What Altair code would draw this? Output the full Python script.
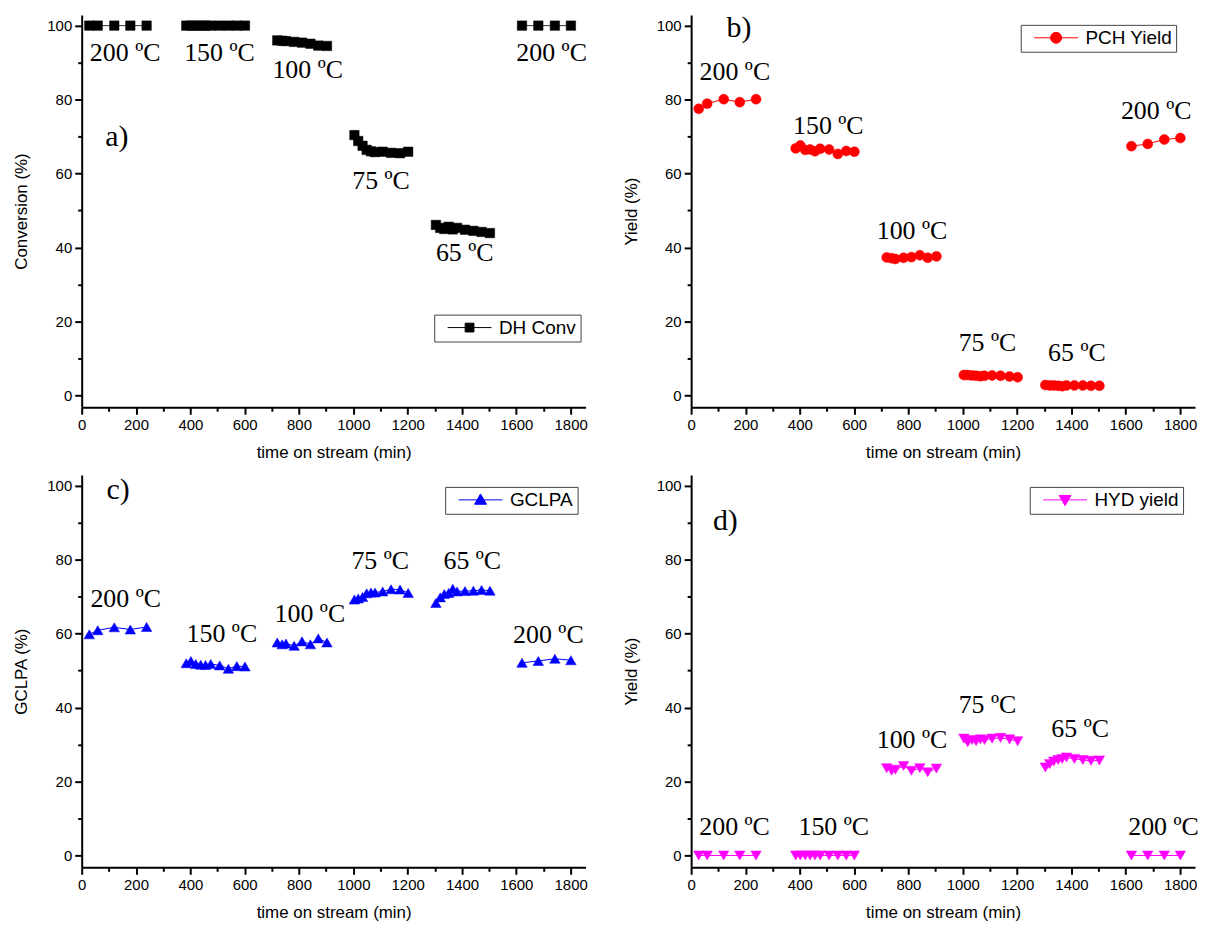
import altair as alt
import pandas as pd

# ---------------- data ----------------
step_names = ["200a", "150", "100", "75", "65", "200b"]
t_s1 = [28, 59, 120, 179, 239]
t_s2 = [385, 402, 420, 438, 456, 475, 508, 540, 571, 601]
t_s3 = [720, 738, 752, 782, 811, 842, 871, 903]
t_s4 = [1004, 1018, 1034, 1049, 1065, 1080, 1108, 1139, 1172, 1202]
t_s5 = [1304, 1320, 1335, 1351, 1366, 1382, 1411, 1442, 1472, 1503]
t_s6 = [1621, 1681, 1742, 1801]
times = [t_s1, t_s2, t_s3, t_s4, t_s5, t_s6]

# a) DH conversion (%)
conv_s1 = [100, 100, 100, 100, 100]
conv_s2 = [100, 100, 100, 100, 100, 100, 100, 100, 100, 100]
conv_s3 = [96.0, 95.9, 95.8, 95.6, 95.4, 95.1, 94.6, 94.5]
conv_s4 = [70.4, 68.8, 67.5, 66.4, 66.0, 65.8, 65.9, 65.6, 65.5, 65.9]
conv_s5 = [46.1, 45.3, 45.0, 45.6, 44.9, 45.3, 44.8, 44.5, 44.2, 43.9]
conv_s6 = [100, 100, 100, 100]

# b) PCH yield (%)
pch_s1 = [77.5, 78.9, 80.1, 79.3, 80.1]
pch_s2 = [66.8, 67.6, 66.4, 66.5, 66.0, 66.7, 66.5, 65.3, 66.1, 65.9]
pch_s3 = [37.3, 37.1, 36.9, 37.2, 37.4, 37.9, 37.2, 37.6]
pch_s4 = [5.5, 5.5, 5.4, 5.3, 5.2, 5.3, 5.4, 5.3, 5.1, 4.9]
pch_s5 = [2.8, 2.7, 2.7, 2.6, 2.5, 2.7, 2.7, 2.7, 2.6, 2.6]
pch_s6 = [67.4, 68.0, 69.2, 69.6]

# c) GCLPA (%)
gcl_s1 = [59.8, 60.9, 61.7, 61.1, 61.8]
gcl_s2 = [52.0, 52.6, 51.8, 51.6, 51.5, 51.8, 51.4, 50.5, 51.2, 51.1]
gcl_s3 = [57.6, 57.1, 57.3, 56.7, 57.9, 57.1, 58.7, 57.6]
gcl_s4 = [69.2, 69.5, 69.9, 70.9, 71.1, 71.1, 71.4, 72.0, 71.9, 71.0]
gcl_s5 = [68.3, 69.8, 70.7, 71.0, 72.1, 71.4, 71.5, 71.6, 71.8, 71.6]
gcl_s6 = [52.1, 52.6, 53.2, 52.8]

# d) HYD yield (%)
hyd_s1 = [0, 0, 0, 0, 0]
hyd_s2 = [0, 0, 0, 0, 0, 0, 0, 0, 0, 0]
hyd_s3 = [23.6, 22.9, 23.2, 24.2, 22.9, 23.6, 22.5, 23.5]
hyd_s4 = [31.6, 30.6, 31.2, 30.9, 31.4, 31.2, 31.6, 31.8, 31.4, 30.9]
hyd_s5 = [23.8, 24.7, 25.4, 25.8, 26.1, 26.5, 26.1, 25.8, 25.6, 25.7]
hyd_s6 = [0, 0, 0, 0]

# temperature annotations
temp_text = ["200 ºC", "150 ºC", "100 ºC", "75 ºC", "65 ºC", "200 ºC"]
a_lab_t = [160, 507, 832, 1102, 1410, 1730]
a_lab_v = [92.7, 92.7, 88.0, 57.9, 38.4, 92.7]
b_lab_t = [161, 505, 813, 1091, 1420, 1712]
b_lab_v = [87.5, 72.9, 44.5, 14.1, 11.4, 76.8]
c_lab_t = [162, 516, 840, 1099, 1438, 1718]
c_lab_v = [69.4, 59.8, 65.3, 79.5, 79.5, 59.5]
d_lab_t = [160, 525, 813, 1091, 1432, 1739]
d_lab_v = [7.6, 7.6, 31.2, 40.8, 34.3, 7.6]

panel_letters = ["a)", "b)", "c)", "d)"]
letter_t = [129, 176, 134, 126]
letter_v = [69.9, 99.4, 98.9, 90.5]

series_names = ["DH Conv", "PCH Yield", "GCLPA", "HYD yield"]
y_titles = ["Conversion (%)", "Yield (%)", "GCLPA (%)", "Yield (%)"]

# ---------------- helpers ----------------
W, H = 506, 394
X_DOM = [0, 1855]
Y_DOM = [-3.2, 102.9]


def series_df(vals, name):
    rows = []
    for step, ts, vs in zip(step_names, times, vals):
        for t, v in zip(ts, vs):
            rows.append({"t": t, "v": v, "step": step, "series": name})
    return pd.DataFrame(rows)


def x_enc():
    return alt.X(
        "t:Q",
        scale=alt.Scale(domain=X_DOM, nice=False, zero=False),
        axis=alt.Axis(
            title="time on stream (min)",
            values=list(range(0, 1801, 100)),
            format="d",
            labelExpr="datum.value % 200 === 0 ? datum.label : ''",
            tickSize={"condition": {"test": "datum.value % 200 === 0", "value": 7}, "value": 4},
            labelFlush=False,
            labelOverlap=False,
            titlePadding=12,
        ),
    )


def y_enc(title):
    return alt.Y(
        "v:Q",
        scale=alt.Scale(domain=Y_DOM, nice=False, zero=False),
        axis=alt.Axis(
            title=title,
            values=list(range(0, 101, 10)),
            labelExpr="datum.value % 20 === 0 ? datum.label : ''",
            tickSize={"condition": {"test": "datum.value % 20 === 0", "value": 7}, "value": 4},
            labelOverlap=False,
            titlePadding=16,
        ),
    )


def panel(vals, name, color, line_color, shape, size, legend_path, lx, ly,
          lab_t, lab_v, letter, lt, lv, ytitle):
    df = series_df(vals, name)
    lab_df = pd.DataFrame({"t": lab_t, "v": lab_v, "txt": temp_text})
    let_df = pd.DataFrame({"t": [lt], "v": [lv], "txt": [letter]})

    line = alt.Chart(df).mark_line(color=line_color, strokeWidth=1).encode(
        x=x_enc(), y=y_enc(ytitle), detail="step:N"
    )
    pts = alt.Chart(df).mark_point(
        filled=True, shape=shape, size=size, opacity=1, stroke=color, strokeWidth=0.5
    ).encode(
        x=x_enc(),
        y=y_enc(ytitle),
        color=alt.Color(
            "series:N",
            scale=alt.Scale(domain=[name], range=[color]),
            legend=alt.Legend(
                title=None,
                orient="none",
                legendX=lx,
                legendY=ly,
                symbolType=legend_path,
                symbolSize=1936,
                symbolFillColor=color,
                symbolStrokeColor=color,
                symbolStrokeWidth=1,
                symbolOpacity=1,
                strokeColor="#444444",
                fillColor="white",
                padding=4,
                clipHeight=18,
                symbolOffset=9,
                labelOffset=7,
                labelFont="Liberation Sans",
                labelFontSize=19,
                labelColor="black",
            ),
        ),
    )
    temps = alt.Chart(lab_df).mark_text(
        font="Liberation Serif", fontSize=26, color="black", align="center", baseline="middle"
    ).encode(x=x_enc(), y=y_enc(ytitle), text="txt:N")
    let = alt.Chart(let_df).mark_text(
        font="Liberation Serif", fontSize=30, color="black", align="center", baseline="middle"
    ).encode(x=x_enc(), y=y_enc(ytitle), text="txt:N")
    return alt.layer(line, pts, temps, let).properties(width=W, height=H)


sq_path = "M-1,0H1M-0.2,-0.2H0.2V0.2H-0.2Z"
ci_path = "M-1,0H1M0.25,0A0.25,0.25,0,1,1,-0.25,0A0.25,0.25,0,1,1,0.25,0Z"
tu_path = "M-1,0H1M0,-0.27L0.27,0.2L-0.27,0.2Z"
td_path = "M-1,0H1M0,0.27L0.27,-0.2L-0.27,-0.2Z"

pa = panel([conv_s1, conv_s2, conv_s3, conv_s4, conv_s5, conv_s6], series_names[0],
           "#000000", "#333333", "square", 90, sq_path, 354, 301,
           a_lab_t, a_lab_v, panel_letters[0], letter_t[0], letter_v[0], y_titles[0])
pb = panel([pch_s1, pch_s2, pch_s3, pch_s4, pch_s5, pch_s6], series_names[1],
           "#FF0000", "#FF0000", "circle", 100, ci_path, 331, 10,
           b_lab_t, b_lab_v, panel_letters[1], letter_t[1], letter_v[1], y_titles[1])
pc = panel([gcl_s1, gcl_s2, gcl_s3, gcl_s4, gcl_s5, gcl_s6], series_names[2],
           "#0000FF", "#0000FF", "triangle-up", 110, tu_path, 365, 12,
           c_lab_t, c_lab_v, panel_letters[2], letter_t[2], letter_v[2], y_titles[2])
pd_ = panel([hyd_s1, hyd_s2, hyd_s3, hyd_s4, hyd_s5, hyd_s6], series_names[3],
            "#FF00FF", "#FF00FF", "triangle-down", 110, td_path, 340, 12,
            d_lab_t, d_lab_v, panel_letters[3], letter_t[3], letter_v[3], y_titles[3])

row1 = alt.hconcat(pa, pb, spacing=34).resolve_scale(color="independent")
row2 = alt.hconcat(pc, pd_, spacing=34).resolve_scale(color="independent")

chart = (
    alt.vconcat(row1, row2, spacing=14)
    .resolve_scale(color="independent")
    .properties(padding={"left": 4, "right": 0, "top": 2, "bottom": 0})
    .configure_view(stroke=None)
    .configure_axis(
        domainColor="black",
        domainWidth=2,
        tickColor="black",
        tickWidth=2,
        grid=False,
        labelFont="Liberation Sans",
        labelFontSize=15,
        labelColor="black",
        labelPadding=3,
        titleFont="Liberation Sans",
        titleFontSize=17,
        titleFontWeight="normal",
        titleColor="black",
    )
)

chart.save("out.html", embed_options={"renderer": "svg", "actions": False})
